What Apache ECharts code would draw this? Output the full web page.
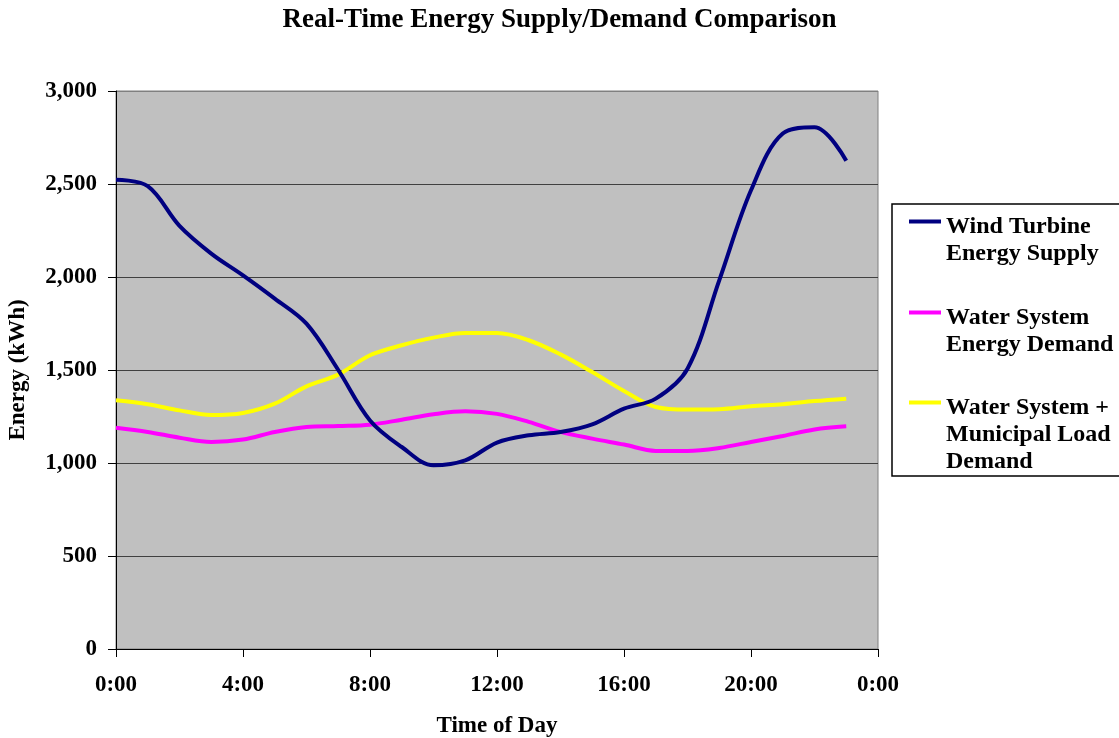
<!DOCTYPE html>
<html><head><meta charset="utf-8">
<script src="https://cdn.jsdelivr.net/npm/echarts@6/dist/echarts.min.js"></script>
<style>html,body{margin:0;padding:0;background:#fff}#c{width:1119px;height:738px}</style>
</head><body><div id="c"></div>
<script>
// ---- data ----
const hours = [0,1,2,3,4,5,6,7,8,9,10,11,12,13,14,15,16,17,18,19,20,21,22,23];
const windSupply = [2523,2488,2275,2126,2009,1884,1749,1500,1229,1086,988,1014,1110,1149,1167,1208,1292,1346,1507,1982,2466,2771,2805,2625];
const waterDemand = [1190,1167,1136,1113,1126,1167,1194,1199,1206,1233,1262,1278,1264,1221,1167,1131,1099,1065,1065,1081,1113,1145,1180,1197];
const combinedDemand = [1337,1316,1283,1258,1269,1319,1412,1475,1579,1633,1674,1699,1699,1660,1584,1489,1387,1301,1287,1289,1305,1316,1333,1346];
const seriesNames = ['Wind Turbine Energy Supply','Water System Energy Demand','Water System + Municipal Load Demand'];
const legendLabels = ['Wind Turbine\nEnergy Supply','Water System\nEnergy Demand','Water System +\nMunicipal Load\nDemand'];
const seriesColors = ['#000080','#FF00FF','#FFFF00'];
const xTickHours = [0,4,8,12,16,20,24];
const yTicks = [0,500,1000,1500,2000,2500,3000];

const FONT = '"Liberation Serif","Times New Roman",serif';
const chart = echarts.init(document.getElementById('c'));

const valuesList = [windSupply, waterDemand, combinedDemand];
const series = valuesList.map((vals, i) => ({
  name: seriesNames[i],
  type: 'line',
  data: hours.map((h, k) => [h, vals[k]]),
  smooth: 0.35,
  showSymbol: false,
  symbol: 'none',
  lineStyle: { color: seriesColors[i], width: 4 },
  itemStyle: { color: seriesColors[i] },
  z: 3 - i
}));

const legendTops = [176, 267, 330];
const spacerHeights = [37, 37, 64];
const legends = seriesNames.map((n, i) => {
  const lines = legendLabels[i].split('\n');
  return {
    show: true,
    orient: 'vertical',
    left: 909,
    top: legendTops[i],
    padding: 0,
    icon: 'rect',
    itemWidth: 32,
    itemHeight: 4,
    selectedMode: false,
    data: [n],
    formatter: () => '{s| }\n' + lines.map(l => '{t|' + l + '}').join('\n'),
    textStyle: {
      fontFamily: FONT, fontWeight: 'bold', fontSize: 24, lineHeight: 27, color: '#000',
      rich: {
        s: { fontSize: 1, lineHeight: spacerHeights[i] },
        t: { fontFamily: FONT, fontWeight: 'bold', fontSize: 24, lineHeight: 27, color: '#000' }
      }
    }
  };
});

const option = {
  animation: false,
  backgroundColor: '#fff',
  title: {
    text: 'Real-Time Energy Supply/Demand Comparison',
    left: 'center',
    top: 2,
    textStyle: { fontFamily: FONT, fontWeight: 'bold', fontSize: 27, color: '#000' }
  },
  legend: legends,
  graphic: [{
    type: 'rect',
    shape: { x: 892, y: 204, width: 240, height: 272 },
    style: { fill: 'none', stroke: '#000', lineWidth: 1.5 },
    silent: true
  }],
  grid: {
    left: 116, right: 241, top: 91, bottom: 89,
    show: true, backgroundColor: '#C0C0C0', borderColor: '#808080', borderWidth: 1,
    containLabel: false, outerBoundsMode: 'none'
  },
  xAxis: {
    type: 'value',
    min: 0, max: 24, interval: 4,
    name: 'Time of Day',
    nameLocation: 'middle',
    nameGap: 66,
    nameTextStyle: { fontFamily: FONT, fontWeight: 'bold', fontSize: 23, color: '#000' },
    axisLine: { show: true, onZero: false, lineStyle: { color: '#000', width: 1 } },
    axisTick: { show: true, inside: false, length: 8, lineStyle: { color: '#000' } },
    axisLabel: {
      margin: 25, fontFamily: FONT, fontWeight: 'bold', fontSize: 23, color: '#000',
      formatter: v => xTickHours.includes(v) ? ((v % 24) + ':00') : ''
    },
    splitLine: { show: false }
  },
  yAxis: {
    type: 'value',
    min: 0, max: 3000, interval: 500,
    name: 'Energy (kWh)',
    nameLocation: 'middle',
    nameGap: 86,
    nameTextStyle: { fontFamily: FONT, fontWeight: 'bold', fontSize: 23, color: '#000' },
    axisLine: { show: true, lineStyle: { color: '#000', width: 1 } },
    axisTick: { show: true, inside: false, length: 8, lineStyle: { color: '#000' } },
    axisLabel: {
      margin: 19, fontFamily: FONT, fontWeight: 'bold', fontSize: 23, color: '#000',
      formatter: v => yTicks.includes(v) ? v.toLocaleString('en-US') : ''
    },
    splitLine: { show: true, lineStyle: { color: ['#404040','#404040','#404040','#404040','#404040','#404040','#808080'], width: 1 } }
  },
  series: series
};
chart.setOption(option);
</script>
</body></html>
